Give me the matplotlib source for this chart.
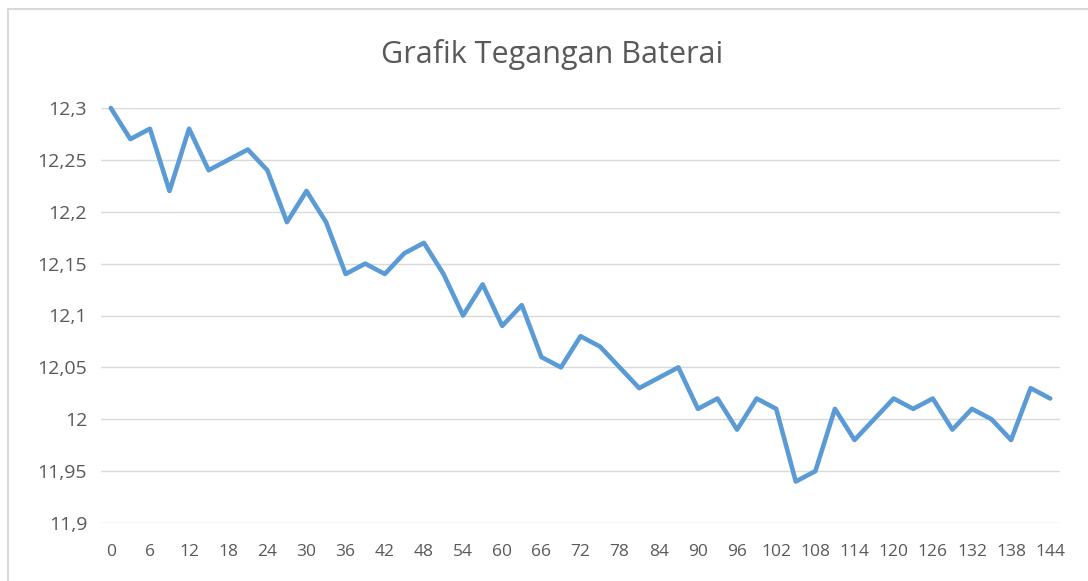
import matplotlib
matplotlib.use("Agg")
import matplotlib.pyplot as plt
from matplotlib.patches import Rectangle
from matplotlib.ticker import FixedLocator

title = "Grafik Tegangan Baterai"
times = [0, 3, 6, 9, 12, 15, 18, 21, 24, 27, 30, 33, 36, 39, 42, 45, 48, 51, 54, 57,
         60, 63, 66, 69, 72, 75, 78, 81, 84, 87, 90, 93, 96, 99, 102, 105, 108, 111,
         114, 117, 120, 123, 126, 129, 132, 135, 138, 141, 144]
voltage = [12.30, 12.27, 12.28, 12.22, 12.28, 12.24, 12.25, 12.26, 12.24, 12.19,
           12.22, 12.19, 12.14, 12.15, 12.14, 12.16, 12.17, 12.14, 12.10, 12.13,
           12.09, 12.11, 12.06, 12.05, 12.08, 12.07, 12.05, 12.03, 12.04, 12.05,
           12.01, 12.02, 11.99, 12.02, 12.01, 11.94, 11.95, 12.01, 11.98, 12.00,
           12.02, 12.01, 12.02, 11.99, 12.01, 12.00, 11.98, 12.03, 12.02]
y_ticks = [11.9, 11.95, 12.0, 12.05, 12.1, 12.15, 12.2, 12.25, 12.3]
y_labels = ["11,9", "11,95", "12", "12,05", "12,1", "12,15", "12,2", "12,25", "12,3"]

W, H = 1088, 581
fig = plt.figure(figsize=(W / 100, H / 100), dpi=100)
fig.patch.set_facecolor("white")

# chart border
fig.patches.append(Rectangle((8 / W, -0.05), 1.2, (H - 9) / H + 0.05,
                             transform=fig.transFigure, fill=False,
                             edgecolor="#d9d9d9", linewidth=1.5))

ax = fig.add_axes([101 / W, (H - 523) / H, (1060 - 101) / W, (523 - 108) / H])
idx = list(range(len(times)))
ax.plot(idx, voltage, color="#5B9BD5", linewidth=3.3, solid_joinstyle="round",
        solid_capstyle="round", zorder=3, clip_on=False)

ax.set_xlim(-0.5, len(times) - 0.5)
ax.set_ylim(y_ticks[0], y_ticks[-1])
ax.yaxis.set_major_locator(FixedLocator(y_ticks))
ax.set_yticklabels(y_labels)
ax.set_xticks(idx[::2])
ax.set_xticklabels([str(t) for t in times[::2]])

for s in ax.spines.values():
    s.set_visible(False)
ax.grid(axis="y", color="#d9d9d9", linewidth=1.0)
ax.set_axisbelow(True)
ax.tick_params(axis="both", length=0, colors="#595959")
ax.tick_params(axis="y", pad=10, labelsize=14)
ax.tick_params(axis="x", pad=15, labelsize=12.5)
for lab in ax.get_xticklabels() + ax.get_yticklabels():
    lab.set_fontfamily("Open Sans")
    lab.set_color("#595959")

fig.text(552 / W, (H - 55) / H, title, ha="center", va="center",
         fontsize=22, color="#595959", family="Open Sans")

fig.savefig("out.png", dpi=100, facecolor="white")
